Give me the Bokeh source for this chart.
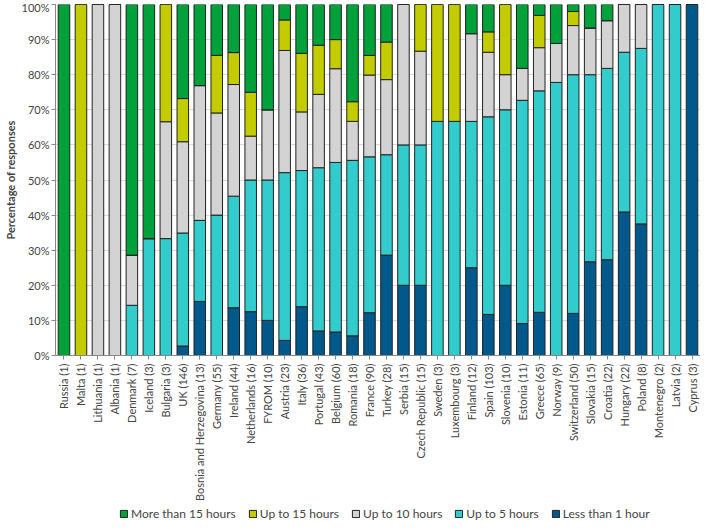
from bokeh.plotting import figure
from bokeh.layouts import column
from bokeh.models import (FactorRange, Range1d, FixedTicker, PrintfTickFormatter,
                          Legend, LegendItem, ColumnDataSource)
from bokeh.embed import file_html
from bokeh.resources import INLINE

countries = ["Russia (1)", "Malta (1)", "Lithuania (1)", "Albania (1)", "Denmark (7)",
             "Iceland (3)", "Bulgaria (3)", "UK (146)", "Bosnia and Herzegovina (13)",
             "Germany (55)", "Ireland (44)", "Netherlands (16)", "FYROM (10)", "Austria (23)",
             "Italy (36)", "Portugal (43)", "Belgium (60)", "Romania (18)", "France (90)",
             "Turkey (28)", "Serbia (15)", "Czech Republic (15)", "Sweden (3)",
             "Luxembourg (3)", "Finland (12)", "Spain (103)", "Slovenia (10)",
             "Estonia (11)", "Greece (65)", "Norway (9)", "Switzerland (50)",
             "Slovakia (15)", "Croatia (22)", "Hungary (22)", "Poland (8)",
             "Montenegro (2)", "Latvia (2)", "Cyprus (3)"]

less_than_1 = [0, 0, 0, 0, 0, 0, 0, 2.7, 15.4, 0, 13.6, 12.5, 10, 4.3, 13.9, 7.0, 6.7, 5.6,
               12.2, 28.6, 20, 20, 0, 0, 25, 11.7, 20, 9.1, 12.3, 0, 12, 26.7, 27.3, 40.9,
               37.5, 0, 0, 100]
up_to_5 = [0, 0, 0, 0, 14.3, 33.3, 33.3, 32.2, 23.1, 40.0, 31.8, 37.5, 40, 47.8, 38.8,
           46.5, 48.3, 50.0, 44.4, 28.6, 40, 40, 66.7, 66.7, 41.7, 56.3, 50, 63.6, 63.1,
           77.8, 68, 53.3, 54.5, 45.5, 50, 100, 100, 0]
up_to_10 = [0, 0, 100, 100, 14.3, 0, 33.3, 26.0, 38.4, 29.1, 31.8, 12.5, 20, 34.8, 16.7,
            20.9, 26.7, 11.1, 23.3, 21.4, 40, 26.7, 0, 0, 25, 18.4, 10, 9.1, 12.3, 11.1,
            14, 13.3, 13.6, 13.6, 12.5, 0, 0, 0]
up_to_15 = [0, 100, 0, 0, 0, 0, 33.4, 12.3, 0, 16.4, 9.1, 12.5, 0, 8.7, 16.7, 14.0, 8.3,
            5.6, 5.6, 10.7, 0, 13.3, 33.3, 33.3, 0, 5.8, 20, 0, 9.2, 0, 4, 0, 0, 0, 0, 0,
            0, 0]
more_than_15 = [100, 0, 0, 0, 71.4, 66.7, 0, 26.8, 23.1, 14.5, 13.7, 25, 30, 4.4, 13.9,
                11.6, 10.0, 27.7, 14.5, 10.7, 0, 0, 0, 0, 8.3, 7.8, 0, 18.2, 3.1, 11.1, 2,
                6.7, 4.6, 0, 0, 0, 0, 0]

series_keys = ["less", "up5", "up10", "up15", "more"]
series_labels = ["Less than 1 hour", "Up to 5 hours", "Up to 10 hours",
                 "Up to 15 hours", "More than 15 hours"]
colors = ["#00598a", "#33cccc", "#d3d3d3", "#c2cc00", "#00a03a"]

FONT = "Lato"

source = ColumnDataSource(dict(country=countries, less=less_than_1, up5=up_to_5,
                               up10=up_to_10, up15=up_to_15, more=more_than_15))

p = figure(x_range=FactorRange(*countries), y_range=Range1d(0, 100),
           width=700, height=503, output_backend="svg", toolbar_location=None,
           min_border_top=4, min_border_right=0, min_border_left=48, min_border_bottom=0)

renderers = p.vbar_stack(series_keys, x="country", width=0.68, source=source,
                         color=colors, line_color="#222222", line_width=1)

p.outline_line_color = None
p.xgrid.grid_line_color = None
p.ygrid.grid_line_color = "#d9d9d9"
p.yaxis.ticker = FixedTicker(ticks=list(range(0, 101, 10)))
p.yaxis.formatter = PrintfTickFormatter(format="%d%%")
p.yaxis.axis_label = "Percentage of responses"
p.yaxis.axis_label_text_font = FONT
p.yaxis.axis_label_text_font_style = "bold"
p.yaxis.axis_label_text_font_size = "11px"
p.yaxis.axis_label_standoff = 2
p.yaxis.major_label_text_font = FONT
p.yaxis.major_label_text_font_size = "11px"
p.yaxis.major_label_standoff = 2
p.yaxis.minor_tick_line_color = None
p.yaxis.major_tick_out = 4
p.yaxis.major_tick_in = 0
p.yaxis.axis_line_color = "#888888"
p.yaxis.major_tick_line_color = "#888888"

p.xaxis.major_label_orientation = 1.5708
p.xaxis.major_label_text_font = FONT
p.xaxis.major_label_text_font_size = "11px"
p.xaxis.major_label_standoff = 4
p.xaxis.axis_line_color = "#888888"
p.xaxis.major_tick_line_color = "#888888"
p.xaxis.major_tick_out = 4
p.xaxis.major_tick_in = 0

# Legend strip below the chart (swatch glyphs sit outside the visible range)
lg = figure(width=700, height=18, output_backend="svg", toolbar_location=None,
            x_range=Range1d(0, 1), y_range=Range1d(0, 1),
            x_axis_location=None, y_axis_location=None,
            min_border_top=0, min_border_right=0, min_border_left=0, min_border_bottom=0)
lg.outline_line_color = None
lg.xgrid.grid_line_color = None
lg.ygrid.grid_line_color = None
swatches = [lg.vbar(x=[0.5], top=[-2], bottom=[-1], width=0.5, color=c,
                    line_color="#222222", line_width=1)
            for c in colors]
items = [LegendItem(label=lab, renderers=[r])
         for lab, r in reversed(list(zip(series_labels, swatches)))]
legend = Legend(items=items, orientation="horizontal", location=(64, 0),
                label_text_font=FONT, label_text_font_size="12px",
                glyph_width=9, glyph_height=9, spacing=12, padding=0, margin=0,
                label_standoff=3, border_line_color=None, background_fill_alpha=0)
lg.add_layout(legend, "center")

layout = column(p, lg, spacing=0)
open("out.html", "w").write(file_html(layout, INLINE))
